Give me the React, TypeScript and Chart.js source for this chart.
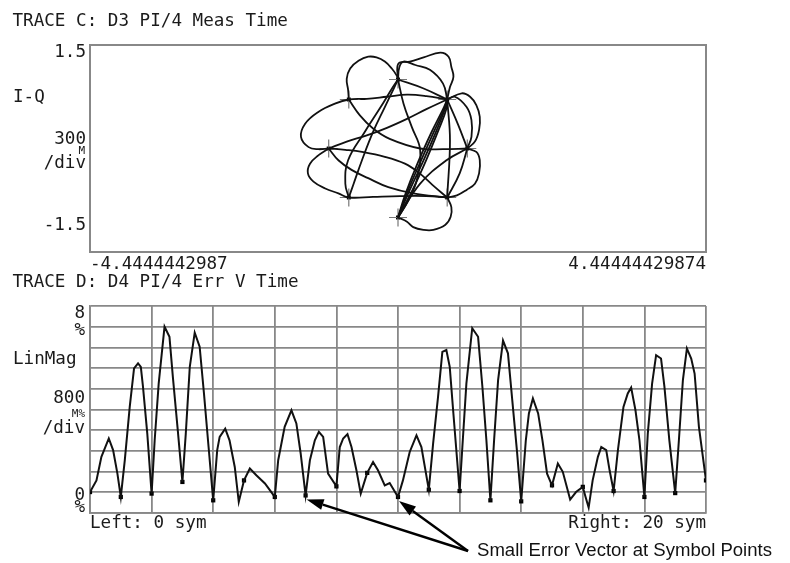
import React, { useEffect, useRef } from "react";
import { Chart, registerables } from "chart.js";

Chart.register(...registerables);

// ---------- Trace C : I-Q diagram (data units) ----------
const iqXMin = -4.4444442987;
const iqXMax = 4.44444429874;
const iqYMin = -1.5;
const iqYMax = 1.5;

const constellationI = [0, 0.71, 1, 0.71, 0, -0.71, -1, -0.71];
const constellationQ = [1, 0.71, 0, -0.71, -1, -0.71, 0, 0.71];

const loopTopLeft = [[-0.71, 0.71], [-0.72, 0.85], [-0.74, 1.01], [-0.69, 1.16], [-0.57, 1.27], [-0.43, 1.33], [-0.31, 1.32], [-0.19, 1.26], [-0.09, 1.16], [-0.02, 1.06], [0, 1]];
const loopUpperLeft = [[-1, 0], [-1.15, -0.01], [-1.29, 0.02], [-1.4, 0.17], [-1.34, 0.36], [-1.15, 0.53], [-0.91, 0.65], [-0.71, 0.71], [-0.45, 0.72], [-0.16, 0.75], [0.13, 0.78], [0.41, 0.76], [0.71, 0.71]];
const loopLowerLeft = [[-1, 0], [-1.15, -0.1], [-1.27, -0.22], [-1.3, -0.36], [-1.22, -0.48], [-1.05, -0.58], [-0.86, -0.65], [-0.71, -0.71], [-0.36, -0.7], [0.03, -0.69], [0.41, -0.69], [0.71, -0.71]];
const loopTopRightOuter = [[0, 1], [0.005, 1.23], [0.17, 1.26], [0.37, 1.32], [0.61, 1.39], [0.73, 1.33], [0.77, 1.18], [0.8, 1.04], [0.75, 0.89], [0.71, 0.71]];
const loopTopRightInner = [[0, 1], [0.02, 1.18], [0.08, 1.26], [0.25, 1.21], [0.46, 1.14], [0.65, 0.94], [0.71, 0.71]];
const loopRightOuter = [[0.71, 0.71], [0.92, 0.8], [1.04, 0.75], [1.13, 0.63], [1.18, 0.46], [1.17, 0.27], [1.11, 0.1], [1, 0]];
const loopRightInner = [[0.71, 0.71], [0.82, 0.75], [0.99, 0.6], [1.06, 0.41], [1.06, 0.17], [1, 0]];
const loopLowerRight = [[1, 0], [1.13, -0.05], [1.18, -0.17], [1.17, -0.36], [1.11, -0.51], [0.99, -0.6], [0.85, -0.68], [0.71, -0.71]];
const loopBottom = [[0.71, -0.71], [0.77, -0.85], [0.76, -0.99], [0.68, -1.11], [0.51, -1.18], [0.37, -1.18], [0.22, -1.14], [0.13, -1.06], [0, -1]];
const chordBtoTR1 = [[0, -1], [0.14, -0.62], [0.33, -0.18], [0.53, 0.27], [0.67, 0.58], [0.71, 0.71]];
const chordBtoTR2 = [[0, -1], [0.17, -0.6], [0.37, -0.17], [0.56, 0.27], [0.68, 0.58], [0.71, 0.71]];
const chordBtoTR3 = [[0, -1], [0.21, -0.6], [0.41, -0.16], [0.59, 0.28], [0.7, 0.58], [0.71, 0.71]];
const chordBtoTR4 = [[0, -1], [0.1, -0.68], [0.28, -0.22], [0.49, 0.25], [0.65, 0.57], [0.71, 0.71]];
const chordTtoBL1 = [[0, 1], [-0.07, 0.85], [-0.19, 0.6], [-0.36, 0.24], [-0.52, -0.17], [-0.64, -0.51], [-0.71, -0.71]];
const chordTtoBL2 = [[-0.71, -0.71], [-0.76, -0.51], [-0.72, -0.17], [-0.48, 0.24], [-0.25, 0.6], [-0.08, 0.88], [0, 1]];
const chordTLtoR = [[-0.71, 0.71], [-0.55, 0.48], [-0.36, 0.29], [-0.12, 0.14], [0.32, 0], [0.65, -0.01], [1, 0]];
const chordLtoBR1 = [[-1, 0], [-0.86, -0.17], [-0.67, -0.31], [-0.43, -0.43], [-0.14, -0.56], [0.22, -0.65], [0.71, -0.71]];
const chordLtoBR2 = [[-1, 0], [-0.76, -0.02], [-0.52, -0.05], [-0.19, -0.12], [0.1, -0.22], [0.3, -0.35], [0.5, -0.53], [0.71, -0.71]];
const chordLtoTR = [[-1, 0], [-0.74, 0.1], [-0.45, 0.19], [-0.16, 0.3], [0.13, 0.43], [0.41, 0.57], [0.71, 0.71]];
const chordTtoB = [[0, 1], [0.08, 0.65], [0.2, 0.31], [0.32, -0.02], [0.27, -0.46], [0.15, -0.75], [0, -1]];
const chordTRtoR = [[0.71, 0.71], [0.87, 0.34], [1, 0]];
const chordTRtoBR = [[0.71, 0.71], [0.75, 0.12], [0.71, -0.71]];
const chordRtoBR = [[1, 0], [0.89, -0.36], [0.71, -0.71]];
const chordBtoR = [[0, -1], [0.32, -0.51], [0.7, -0.17], [1, 0]];
const chordTtoTR = [[0, 1], [0.37, 0.87], [0.71, 0.71]];

const iqCurves = [
  loopTopLeft, loopUpperLeft, loopLowerLeft, loopTopRightOuter, loopTopRightInner,
  loopRightOuter, loopRightInner, loopLowerRight, loopBottom,
  chordBtoTR1, chordBtoTR2, chordBtoTR3, chordBtoTR4, chordTtoBL1, chordTtoBL2,
  chordTLtoR, chordLtoBR1, chordLtoBR2, chordLtoTR, chordTtoB, chordTRtoR,
  chordTRtoBR, chordRtoBR, chordBtoR, chordTtoTR,
];

// ---------- Trace D : error vector magnitude vs time ----------
const evmTime = [
  0, 0.21, 0.37, 0.61, 0.75, 0.89, 1, 1.13, 1.29, 1.43, 1.56, 1.65, 1.72, 1.86, 2,
  2.1, 2.23, 2.42, 2.58, 2.69, 2.84, 3, 3.11, 3.24, 3.4, 3.56, 3.7, 3.85, 4,
  4.13, 4.21, 4.39, 4.53, 4.7, 4.83, 5, 5.19, 5.4, 5.68, 6, 6.11, 6.32, 6.54, 6.7, 6.84, 7,
  7.14, 7.3, 7.43, 7.57, 7.73, 8, 8.11, 8.22, 8.36, 8.49, 8.65, 8.79, 9, 9.19, 9.35, 9.57, 9.73, 10,
  10.16, 10.38, 10.6, 10.76, 11, 11.14, 11.3, 11.44, 11.57, 11.68, 11.79, 11.92, 12,
  12.09, 12.22, 12.41, 12.6, 12.74, 12.87, 13, 13.12, 13.25, 13.41, 13.57, 13.71, 13.86, 14,
  14.15, 14.25, 14.38, 14.55, 14.69, 14.84, 15, 15.19, 15.35, 15.59, 15.78, 16, 16.09, 16.19,
  16.32, 16.49, 16.6, 16.76, 16.87, 17, 17.14, 17.32, 17.46, 17.57, 17.71, 17.84, 18,
  18.11, 18.25, 18.38, 18.54, 18.65, 18.81, 19, 19.12, 19.25, 19.38, 19.52, 19.63, 19.77, 20,
];
const evmValue = [
  0.81, 1.26, 2.17, 2.88, 2.43, 1.52, 0.62, 2.04, 4.1, 5.59, 5.78, 5.65, 4.88, 3.07, 0.75,
  2.81, 5.0, 7.2, 6.81, 5.26, 3.33, 1.2, 3.07, 5.65, 6.97, 6.43, 4.62, 2.55, 0.49,
  2.43, 2.94, 3.26, 2.81, 1.78, 0.43, 1.26, 1.72, 1.46, 1.14, 0.62, 2.04, 3.33, 3.97, 3.46, 2.3, 0.68,
  2.04, 2.81, 3.14, 2.94, 1.52, 1.03, 2.55, 2.88, 3.05, 2.55, 1.65, 0.75, 1.55, 1.97, 1.65, 1.07, 1.16, 0.62,
  1.26, 2.36, 3.0, 2.55, 0.9, 2.68, 4.49, 6.23, 6.3, 5.65, 3.97, 2.04, 0.85,
  2.55, 5.0, 7.14, 6.81, 4.88, 2.81, 0.49, 2.81, 5.14, 6.66, 6.17, 4.36, 2.43, 0.45,
  2.81, 3.85, 4.43, 3.85, 2.81, 1.52, 1.07, 1.91, 1.59, 0.52, 0.81, 1.01, 0.62, 0.21,
  1.26, 2.17, 2.55, 2.43, 1.65, 0.85, 2.43, 4.1, 4.62, 4.85, 3.97, 2.81, 0.62,
  3.07, 5.0, 6.1, 5.97, 4.88, 2.81, 0.77, 2.81, 5.14, 6.36, 5.97, 5.39, 3.33, 1.26,
];
const symbolTime = [0, 1, 2, 3, 4, 5, 6, 7, 8, 9, 10, 11, 12, 13, 14, 15, 16, 17, 18, 19, 20];
const symbolError = [0.81, 0.62, 0.75, 1.2, 0.49, 1.26, 0.62, 0.68, 1.03, 1.55, 0.62, 0.9, 0.85, 0.49, 0.45, 1.07, 1.01, 0.85, 0.62, 0.77, 1.26];
const arrowTargets = [7, 10];

// ---------- texts ----------
const traceTitles = ["TRACE C: D3 PI/4 Meas Time", "TRACE D: D4 PI/4 Err V Time"];
const iqLabels = ["1.5", "I-Q", "300", "M", "/div", "-1.5", "-4.4444442987", "4.44444429874"];
const evmLabels = ["8", "%", "LinMag", "800", "M%", "/div", "0", "%", "Left: 0 sym", "Right: 20 sym"];
const annotationText = "Small Error Vector at Symbol Points";

const MONO = '"DejaVu Sans Mono", "Liberation Mono", monospace';
const INK = "#1a1a1a";
const GRID = "#888888";

function txt(ctx: CanvasRenderingContext2D, s: string, x: number, y: number, align: CanvasTextAlign, size = 17.6) {
  ctx.save();
  ctx.font = `${size}px ${MONO}`;
  ctx.fillStyle = INK;
  ctx.textAlign = align;
  ctx.textBaseline = "alphabetic";
  ctx.fillText(s, x, y);
  ctx.restore();
}

const iqTextPlugin = {
  id: "iqText",
  afterDraw(chart: any) {
    const ctx = chart.ctx as CanvasRenderingContext2D;
    const a = chart.chartArea;
    ctx.save();
    ctx.strokeStyle = GRID;
    ctx.lineWidth = 2;
    ctx.strokeRect(a.left, a.top, a.right - a.left, a.bottom - a.top);
    ctx.restore();
    const r = a.left - 4;
    txt(ctx, traceTitles[0], 12.5, 26, "left");
    txt(ctx, iqLabels[0], r, 57, "right");
    txt(ctx, iqLabels[1], 13, 102, "left");
    txt(ctx, iqLabels[2], r, 143.5, "right");
    txt(ctx, iqLabels[3], r - 1, 154, "right", 11);
    txt(ctx, iqLabels[4], r, 168, "right");
    txt(ctx, iqLabels[5], r, 229.5, "right");
    txt(ctx, iqLabels[6], a.left, a.bottom + 17, "left");
    txt(ctx, iqLabels[7], a.right, a.bottom + 17, "right");
  },
};

const evmTextPlugin = {
  id: "evmText",
  afterDraw(chart: any) {
    const ctx = chart.ctx as CanvasRenderingContext2D;
    const a = chart.chartArea;
    const r = a.left - 5;
    txt(ctx, traceTitles[1], 12.5, 287, "left");
    txt(ctx, evmLabels[0], r, 318, "right");
    txt(ctx, evmLabels[1], r, 335, "right");
    txt(ctx, evmLabels[2], 13, 364, "left");
    txt(ctx, evmLabels[3], r, 403, "right");
    txt(ctx, evmLabels[4], r, 416.5, "right", 11);
    txt(ctx, evmLabels[5], r, 433, "right");
    txt(ctx, evmLabels[6], r, 500, "right");
    txt(ctx, evmLabels[7], r, 511.5, "right");
    txt(ctx, evmLabels[8], a.left, 528, "left");
    txt(ctx, evmLabels[9], a.right, 528, "right");

    // annotation
    const xs = chart.scales.x;
    const ys = chart.scales.y;
    const tail = { x: 468, y: 551 };
    ctx.save();
    ctx.strokeStyle = "#000";
    ctx.fillStyle = "#000";
    ctx.lineWidth = 2.4;
    for (const t of arrowTargets) {
      const tip = { x: xs.getPixelForValue(t) + 1, y: ys.getPixelForValue(symbolError[t]) + 4 };
      const dx = tip.x - tail.x;
      const dy = tip.y - tail.y;
      const len = Math.hypot(dx, dy);
      const ux = dx / len;
      const uy = dy / len;
      const head = 17;
      const half = 5.5;
      const bx = tip.x - ux * head;
      const by = tip.y - uy * head;
      ctx.beginPath();
      ctx.moveTo(tail.x, tail.y);
      ctx.lineTo(bx, by);
      ctx.stroke();
      ctx.beginPath();
      ctx.moveTo(tip.x, tip.y);
      ctx.lineTo(bx - uy * half, by + ux * half);
      ctx.lineTo(bx + uy * half, by - ux * half);
      ctx.closePath();
      ctx.fill();
    }
    ctx.font = '17.5px "Liberation Sans Narrow", "Liberation Sans", Arial, sans-serif';
    const w = ctx.measureText(annotationText).width;
    const target = 295;
    ctx.translate(477, 556);
    ctx.scale(target / w, 1);
    ctx.textAlign = "left";
    ctx.fillStyle = "#111";
    ctx.fillText(annotationText, 0, 0);
    ctx.restore();
  },
};

export default function App() {
  const iqRef = useRef<HTMLCanvasElement | null>(null);
  const evmRef = useRef<HTMLCanvasElement | null>(null);

  useEffect(() => {
    if (!iqRef.current || !evmRef.current) return;

    const curveSets = iqCurves.map((c) => ({
      data: c.map(([x, y]) => ({ x, y })),
      showLine: true,
      borderColor: "#111",
      borderWidth: 1.8,
      pointRadius: 0,
      tension: 0.4,
      fill: false,
    }));

    const iqChart = new Chart(iqRef.current, {
      type: "scatter",
      data: {
        datasets: [
          ...curveSets,
          {
            data: constellationI.map((x, i) => ({ x, y: constellationQ[i] })),
            showLine: false,
            pointStyle: "cross",
            pointRadius: 9,
            borderColor: "#777",
            borderWidth: 1.2,
          },
          {
            data: constellationI.map((x, i) => ({ x, y: constellationQ[i] })),
            showLine: false,
            pointStyle: "rect",
            pointRadius: 2.8,
            backgroundColor: "#000",
            borderColor: "#000",
            borderWidth: 0,
          },
        ] as any,
      },
      options: {
        responsive: false,
        animation: false,
        events: [],
        layout: { padding: { left: 90, right: 84, top: 45, bottom: 311 } },
        plugins: { legend: { display: false }, tooltip: { enabled: false } },
        scales: {
          x: { type: "linear", min: iqXMin, max: iqXMax, display: false },
          y: { type: "linear", min: iqYMin, max: iqYMax, display: false },
        },
      },
      plugins: [iqTextPlugin],
    });

    const evmChart = new Chart(evmRef.current, {
      type: "scatter",
      data: {
        datasets: [
          {
            data: evmTime.map((x, i) => ({ x, y: evmValue[i] })),
            showLine: true,
            borderColor: "#111",
            borderWidth: 2,
            pointRadius: 0,
            tension: 0,
            fill: false,
          },
          {
            data: symbolTime.map((x, i) => ({ x, y: symbolError[i] })),
            showLine: false,
            pointStyle: "rect",
            pointRadius: 3,
            backgroundColor: "#000",
            borderColor: "#000",
            borderWidth: 0,
          },
        ] as any,
      },
      options: {
        responsive: false,
        animation: false,
        events: [],
        layout: { padding: { left: 90, right: 84, top: 306, bottom: 50 } },
        plugins: { legend: { display: false }, tooltip: { enabled: false } },
        scales: {
          x: {
            type: "linear",
            min: 0,
            max: 20,
            ticks: { stepSize: 2, display: false },
            grid: { color: GRID, lineWidth: 1.8, drawTicks: false },
            border: { display: true, color: GRID, width: 1.8 },
            afterFit: (s: any) => { s.height = 0; },
          },
          y: {
            type: "linear",
            min: 0,
            max: 8,
            ticks: { count: 11, display: false },
            grid: { color: GRID, lineWidth: 1.8, drawTicks: false },
            border: { display: true, color: GRID, width: 1.8 },
            afterFit: (s: any) => { s.width = 0; },
          },
        },
      },
      plugins: [evmTextPlugin],
    });

    return () => {
      iqChart.destroy();
      evmChart.destroy();
    };
  }, []);

  const canvasStyle: React.CSSProperties = { position: "absolute", left: 0, top: 0 };
  return (
    <div style={{ position: "absolute", left: 0, top: 0, width: 790, height: 563, background: "#fff" }}>
      <canvas ref={iqRef} width={790} height={563} style={canvasStyle} />
      <canvas ref={evmRef} width={790} height={563} style={canvasStyle} />
    </div>
  );
}
